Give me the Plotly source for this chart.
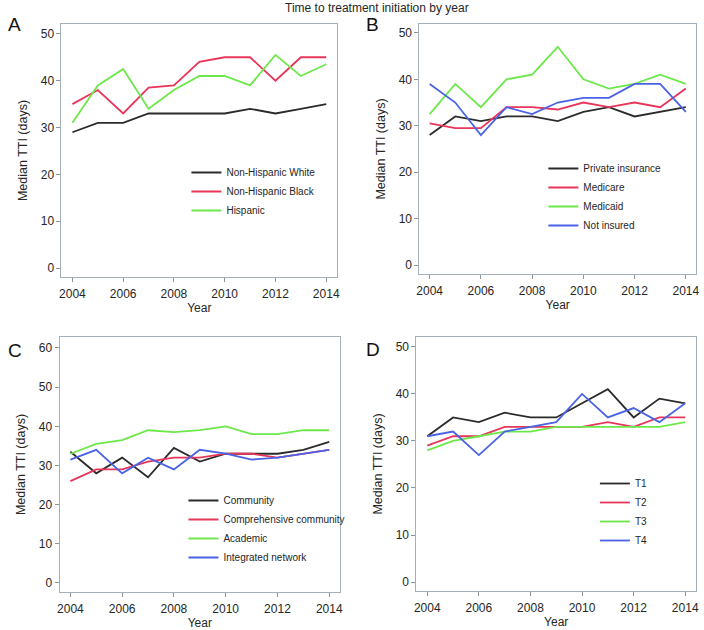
import plotly.graph_objects as go

years = list(range(2004, 2015))

# Panel A: race/ethnicity
a_names = ["Non-Hispanic White", "Non-Hispanic Black", "Hispanic"]
a_white = [29, 31, 31, 33, 33, 33, 33, 34, 33, 34, 35]
a_black = [35, 38, 33, 38.5, 39, 44, 45, 45, 40, 45, 45]
a_hisp = [31, 39, 42.5, 34, 38, 41, 41, 39, 45.5, 41, 43.5]

# Panel B: insurance
b_names = ["Private insurance", "Medicare", "Medicaid", "Not insured"]
b_private = [28, 32, 31, 32, 32, 31, 33, 34, 32, 33, 34]
b_medicare = [30.5, 29.5, 29.5, 34, 34, 33.5, 35, 34, 35, 34, 38]
b_medicaid = [32.5, 39, 34, 40, 41, 47, 40, 38, 39, 41, 39]
b_notins = [39, 35, 28, 34, 32.5, 35, 36, 36, 39, 39, 33]

# Panel C: facility type
c_names = ["Community", "Comprehensive community", "Academic", "Integrated network"]
c_comm = [33.5, 28, 32, 27, 34.5, 31, 33, 33, 33, 34, 36]
c_comp = [26, 29, 29, 31, 32, 32, 33, 33, 32, 33, 34]
c_acad = [33, 35.5, 36.5, 39, 38.5, 39, 40, 38, 38, 39, 39]
c_integ = [31.5, 34, 28, 32, 29, 34, 33, 31.5, 32, 33, 34]

# Panel D: T stage
d_names = ["T1", "T2", "T3", "T4"]
d_t1 = [31, 35, 34, 36, 35, 35, 38, 41, 35, 39, 38]
d_t2 = [29, 31, 31, 33, 33, 33, 33, 34, 33, 35, 35]
d_t3 = [28, 30, 31, 32, 32, 33, 33, 33, 33, 33, 34]
d_t4 = [31, 32, 27, 32, 33, 34, 40, 35, 37, 34, 38]

yticks_ab = [0, 10, 20, 30, 40, 50]
yticks_c = [0, 10, 20, 30, 40, 50, 60]
xticks = [2004, 2006, 2008, 2010, 2012, 2014]

BLACK = "#2b2b2b"
RED = "#e8365a"
GREEN = "#6de84a"
BLUE = "#4a63e6"
FRAME = "#a3b0ba"
TXT = "#262626"
FONT = "Liberation Sans, Arial, sans-serif"

W, H = 704, 630

def fx(px):
    return px / W

def fy(py):
    return 1 - py / H

panels = [
    dict(key="", box=(59, 24, 337, 277), yr=[-1.9, 52.1], xr=[2003.57, 2014.43],
         yt=yticks_ab, names=a_names, series=[a_white, a_black, a_hisp],
         colors=[BLACK, RED, GREEN], leg=(185, 158), letter="A", lpos=(3, 25)),
    dict(key="2", box=(420, 24, 699, 274), yr=[-1.9, 51.9], xr=[2003.6, 2014.4],
         yt=yticks_ab, names=b_names, series=[b_private, b_medicare, b_medicaid, b_notins],
         colors=[BLACK, RED, GREEN, BLUE], leg=(545, 154), letter="B", lpos=(364, 25)),
    dict(key="3", box=(57, 337, 340, 592), yr=[-2.3, 62.8], xr=[2003.58, 2014.42],
         yt=yticks_c, names=c_names, series=[c_comm, c_comp, c_acad, c_integ],
         colors=[BLACK, RED, GREEN, BLUE], leg=(182, 486), letter="C", lpos=(3, 350)),
    dict(key="4", box=(417, 337, 699, 591), yr=[-1.9, 52.1], xr=[2003.58, 2014.42],
         yt=yticks_ab, names=d_names, series=[d_t1, d_t2, d_t3, d_t4],
         colors=[BLACK, RED, GREEN, BLUE], leg=(597, 469), letter="D", lpos=(364, 349)),
]

fig = go.Figure()
annotations = []
layout = dict(
    width=W, height=H, margin=dict(l=0, r=0, t=0, b=0),
    paper_bgcolor="white", plot_bgcolor="white",
    font=dict(family=FONT, color=TXT, size=12),
)

for p in panels:
    k = p["key"]
    xa = "x" + k
    ya = "y" + k
    leg = "legend" + k
    for name, vals, col in zip(p["names"], p["series"], p["colors"]):
        fig.add_trace(go.Scatter(
            x=years, y=vals, mode="lines", name=name,
            line=dict(color=col, width=1.8),
            xaxis=xa, yaxis=ya, legend=leg,
        ))
    l, t, r, b = p["box"]
    axis_common = dict(showline=True, linecolor=FRAME, linewidth=1, mirror=True,
                       showgrid=False, zeroline=False, ticks="outside", ticklen=4,
                       tickcolor="#8a949c", tickfont=dict(size=12, color=TXT, family=FONT))
    layout["xaxis" + k] = dict(domain=[fx(l), fx(r)], range=p["xr"], anchor=ya, tickvals=xticks,
                               ticklabelstandoff=2,
                               title=dict(text="Year", font=dict(size=12, color=TXT), standoff=3),
                               **axis_common)
    layout["yaxis" + k] = dict(domain=[fy(b), fy(t)], range=p["yr"], anchor=xa, tickvals=p["yt"],
                               title=dict(text="Median TTI (days)", font=dict(size=12.5, color=TXT), standoff=10),
                               **axis_common)
    lx, ly = p["leg"]
    layout[leg] = dict(x=fx(lx), y=fy(ly), xanchor="left", yanchor="top",
                       bgcolor="rgba(0,0,0,0)", font=dict(size=10, color=TXT, family=FONT),
                       tracegroupgap=0, itemwidth=30)
    annotations.append(dict(text=p["letter"], x=fx(p["lpos"][0]), y=fy(p["lpos"][1]),
                            xref="paper", yref="paper", xanchor="left", yanchor="middle",
                            showarrow=False, font=dict(size=19, color="#111", family=FONT)))

annotations.append(dict(text="Time to treatment initiation by year", x=fx(377), y=fy(8),
                        xref="paper", yref="paper", xanchor="center", yanchor="middle",
                        showarrow=False, font=dict(size=12, color=TXT, family=FONT)))
layout["annotations"] = annotations
layout["showlegend"] = True
fig.update_layout(**layout)
# remove the browser's default 8px page margin so the figure fills the window
fig.write_html("out.html", config={"displayModeBar": False},
               post_script="document.body.style.margin='0';")
